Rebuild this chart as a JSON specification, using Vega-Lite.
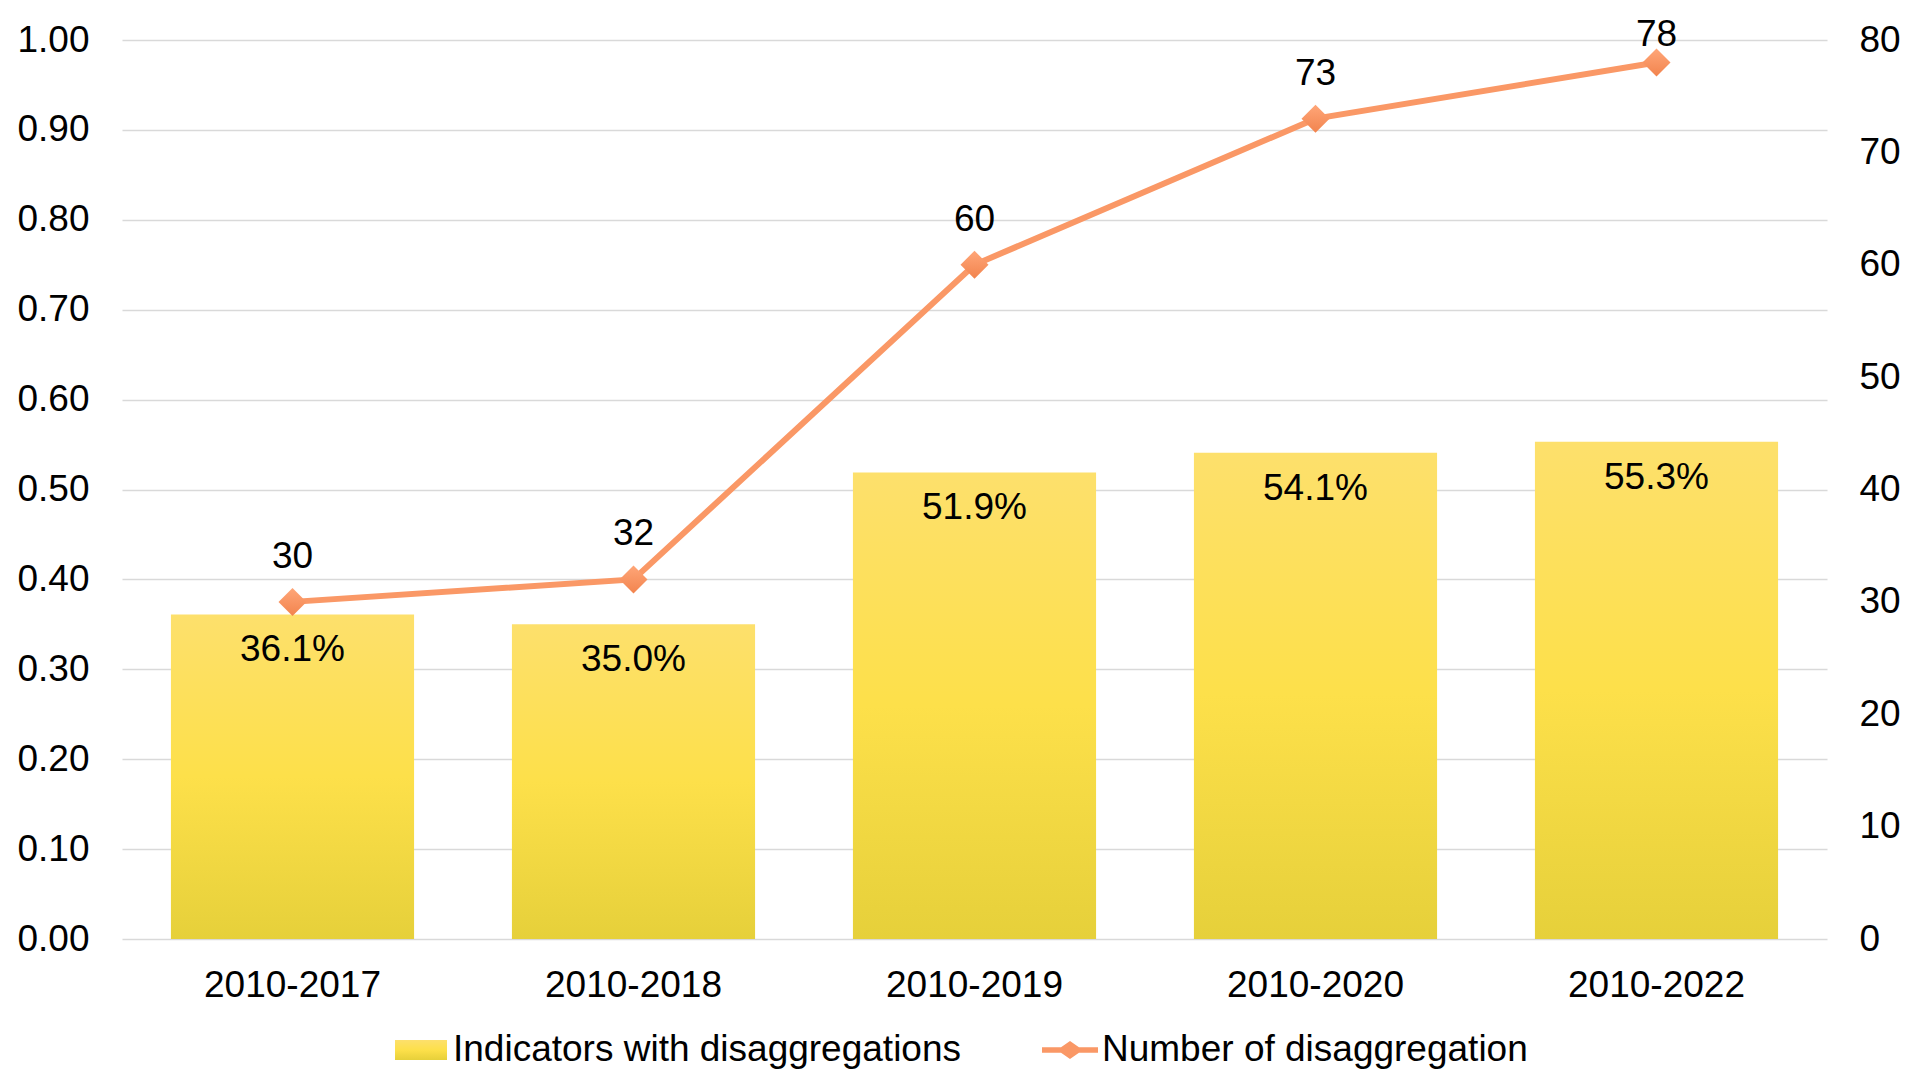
{
  "$schema": "https://vega.github.io/schema/vega-lite/v6.json",
  "width": 1705,
  "height": 899,
  "autosize": {"type": "none"},
  "padding": {"left": 122, "top": 40, "right": 80, "bottom": 132},
  "background": "white",
  "config": {
    "font": "Liberation Sans",
    "view": {"stroke": null},
    "axis": {"labelFont": "Liberation Sans", "labelColor": "#000000", "labelFontSize": 37, "ticks": false, "domain": false, "title": null},
    "legend": {"labelFont": "Liberation Sans", "labelColor": "#000000", "labelFontSize": 37, "labelLimit": 1000, "title": null, "padding": 0}
  },
  "data": {
    "values": [
      {"period": "2010-2017", "share": 0.361, "count": 30},
      {"period": "2010-2018", "share": 0.350, "count": 32},
      {"period": "2010-2019", "share": 0.519, "count": 60},
      {"period": "2010-2020", "share": 0.541, "count": 73},
      {"period": "2010-2022", "share": 0.553, "count": 78}
    ]
  },
  "encoding": {
    "x": {
      "field": "period", "type": "nominal", "sort": null,
      "scale": {"paddingInner": 0.287, "paddingOuter": 0.1435},
      "axis": {"labelAngle": 0, "labelBaseline": "alphabetic", "labelPadding": 57, "grid": false}
    }
  },
  "layer": [
    {
      "encoding": {
        "y": {
          "field": "share", "type": "quantitative",
          "scale": {"domain": [0, 1], "nice": false},
          "axis": {"orient": "left", "values": [0, 0.1, 0.2, 0.3, 0.4, 0.5, 0.6, 0.7, 0.8, 0.9, 1.0], "format": ".2f", "labelPadding": 33, "grid": true, "gridColor": "#D9D9D9", "gridWidth": 1.5}
        }
      },
      "layer": [
        {
          "mark": {"type": "bar", "strokeWidth": 0,
            "fill": {"gradient": "linear", "x1": 0, "y1": 0, "x2": 0, "y2": 1, "stops": [{"offset": 0, "color": "#FDE06C"}, {"offset": 0.5, "color": "#FDE04A"}, {"offset": 1, "color": "#E6D03A"}]}},
          "encoding": {
            "stroke": {
              "datum": "Indicators with disaggregations", "type": "nominal",
              "scale": {"range": ["transparent"]},
              "legend": {"orient": "none", "legendX": 273, "legendY": 984, "symbolType": "M-1,-0.385H1V0.385H-1Z", "symbolSize": 2704, "labelOffset": 6, "symbolStrokeWidth": 0}
            }
          }
        },
        {
          "mark": {"type": "text", "baseline": "middle", "dy": 36, "fontSize": 37, "fill": "#000000"},
          "encoding": {
            "text": {"field": "share", "type": "quantitative", "format": ".1%"}
          }
        }
      ]
    },
    {
      "encoding": {
        "y": {
          "field": "count", "type": "quantitative",
          "scale": {"domain": [0, 80], "nice": false},
          "axis": {"orient": "right", "values": [0, 10, 20, 30, 40, 50, 60, 70, 80], "format": "d", "labelPadding": 32, "grid": false}
        }
      },
      "layer": [
        {
          "mark": {"type": "line", "strokeWidth": 6},
          "encoding": {
            "stroke": {
              "datum": "Number of disaggregation", "type": "nominal",
              "scale": {"range": ["#FA9866"]},
              "legend": {"orient": "none", "legendX": 920, "legendY": 982, "symbolType": "M-1,-0.1H-0.32L0,-0.32L0.32,-0.1H1V0.1H0.32L0,0.32L-0.32,0.1H-1Z", "symbolSize": 3136, "labelOffset": 4,
                "encode": {"symbols": {"update": {"fill": {"value": "#FA9866"}, "stroke": {"value": "transparent"}, "strokeWidth": {"value": 0}, "opacity": {"value": 1}}}}}
            }
          }
        },
        {
          "mark": {"type": "point", "shape": "diamond", "size": 784, "filled": true, "opacity": 1,
            "fill": {"gradient": "linear", "x1": 0, "y1": 0, "x2": 0, "y2": 1, "stops": [{"offset": 0, "color": "#FFA678"}, {"offset": 1, "color": "#F2844E"}]}},
          "encoding": {}
        },
        {
          "transform": [{"filter": "datum.count < 78"}],
          "mark": {"type": "text", "baseline": "middle", "dy": -45, "fontSize": 37, "color": "#000000"},
          "encoding": {"text": {"field": "count", "type": "quantitative", "format": "d"}}
        },
        {
          "transform": [{"filter": "datum.count >= 78"}],
          "mark": {"type": "text", "baseline": "middle", "dy": -27, "fontSize": 37, "color": "#000000"},
          "encoding": {"text": {"field": "count", "type": "quantitative", "format": "d"}}
        }
      ]
    }
  ],
  "resolve": {"scale": {"y": "independent", "fill": "independent", "stroke": "independent"}}
}
